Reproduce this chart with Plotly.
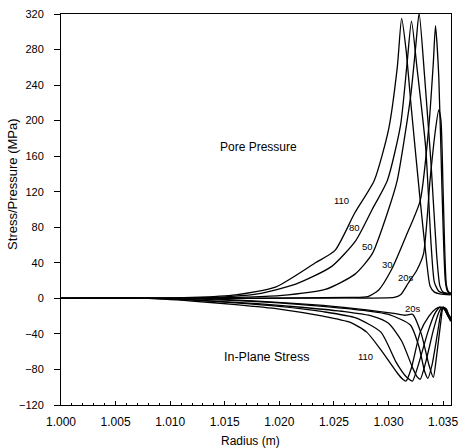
import plotly.graph_objects as go

# ---- Pore pressure curves (radius m, MPa) ----
pore_labels = ["110", "80", "50", "30", "20s"]
pore_r_110 = [1.000, 1.008, 1.012, 1.016, 1.0197, 1.0233, 1.0251, 1.0269, 1.0287, 1.0300, 1.0308, 1.0312,
              1.0316, 1.0321, 1.0329, 1.0335, 1.0338, 1.0342, 1.0347, 1.0357]
pore_p_110 = [0, 0, 1, 4, 13, 40, 54, 96, 133, 190, 260, 315,
              280, 212, 110, 40, 14, 7, 5, 4]
pore_r_80 = [1.000, 1.010, 1.014, 1.018, 1.0215, 1.0248, 1.0270, 1.0285, 1.0299, 1.0311, 1.0317, 1.0321,
             1.0326, 1.0334, 1.0339, 1.0342, 1.0346, 1.0350, 1.0357]
pore_p_80 = [0, 0, 1, 5, 16, 36, 65, 100, 133, 195, 265, 312,
             260, 170, 60, 18, 8, 6, 5]
pore_r_50 = [1.000, 1.012, 1.016, 1.020, 1.0242, 1.0269, 1.0285, 1.0300, 1.0308, 1.0320, 1.0325, 1.0328,
             1.0333, 1.0339, 1.0344, 1.0347, 1.0350, 1.0357]
pore_p_50 = [0, 0, 1, 3, 10, 27, 50, 100, 133, 225, 285, 321,
             250, 150, 50, 14, 7, 5]
pore_r_30 = [1.000, 1.015, 1.022, 1.0265, 1.0281, 1.0291, 1.0303, 1.0316, 1.0329, 1.0337, 1.0341, 1.0343,
             1.0346, 1.0349, 1.0352, 1.0354, 1.0357]
pore_p_30 = [0, 0, 0.5, 1, 2, 9.5, 33, 70, 110, 195, 265, 307,
             250, 120, 20, 8, 6]
pore_r_20 = [1.000, 1.018, 1.026, 1.0305, 1.0311, 1.0318, 1.0326, 1.0332, 1.0338, 1.0343, 1.0346,
             1.0348, 1.0350, 1.0353, 1.0355, 1.0357]
pore_p_20 = [0, 0, 0.5, 1, 4, 17, 32, 50, 133, 190, 212,
             200, 120, 15, 7, 5]

# ---- In-plane stress curves (radius m, MPa) ----
stress_r_110 = [1.000, 1.008, 1.012, 1.016, 1.020, 1.024, 1.0265, 1.028, 1.0293, 1.0308, 1.0313, 1.0316,
                1.0321, 1.0329, 1.0337, 1.0343, 1.0347, 1.0351, 1.0354, 1.0357]
stress_s_110 = [0, 0, -3, -7, -12, -20, -27, -38, -58, -84, -91, -93,
                -78, -38, -20, -12, -10, -12, -19, -26]
stress_r_80 = [1.000, 1.008, 1.012, 1.016, 1.020, 1.024, 1.027, 1.0293, 1.0307, 1.0316, 1.0320, 1.0322,
               1.0327, 1.0336, 1.0342, 1.0347, 1.0351, 1.0354, 1.0357]
stress_s_80 = [0, 0, -2, -5, -9, -15, -22, -38, -72, -88, -92, -93,
               -76, -38, -18, -10, -12, -19, -25]
stress_r_50 = [1.000, 1.010, 1.014, 1.018, 1.022, 1.026, 1.0285, 1.030, 1.0312, 1.0322, 1.0326, 1.0329,
               1.0334, 1.0341, 1.0346, 1.0349, 1.0352, 1.0355, 1.0357]
stress_s_50 = [0, 0, -3, -6, -10, -15, -20, -28, -48, -78, -88, -91,
               -72, -36, -16, -10, -13, -19, -24]
stress_r_30 = [1.000, 1.010, 1.015, 1.020, 1.024, 1.028, 1.030, 1.032, 1.0328, 1.0333, 1.0336,
               1.0340, 1.0345, 1.0348, 1.0350, 1.0353, 1.0355, 1.0357]
stress_s_30 = [0, 0, -2, -5, -9, -14, -18, -30, -55, -82, -90,
               -74, -38, -16, -10, -13, -19, -23]
stress_r_20 = [1.000, 1.012, 1.018, 1.024, 1.028, 1.0305, 1.0315, 1.0322, 1.0330, 1.0337, 1.0341,
               1.0344, 1.0348, 1.0350, 1.0353, 1.0355, 1.0357]
stress_s_20 = [0, 0, -3, -8, -13, -17, -19, -18, -40, -75, -89,
               -65, -25, -10, -12, -18, -22]

x_ticks = [1.000, 1.005, 1.010, 1.015, 1.020, 1.025, 1.030, 1.035]
y_ticks = [-120, -80, -40, 0, 40, 80, 120, 160, 200, 240, 280, 320]

pore_series = [(pore_r_110, pore_p_110), (pore_r_80, pore_p_80), (pore_r_50, pore_p_50),
               (pore_r_30, pore_p_30), (pore_r_20, pore_p_20)]
stress_series = [(stress_r_110, stress_s_110), (stress_r_80, stress_s_80), (stress_r_50, stress_s_50),
                 (stress_r_30, stress_s_30), (stress_r_20, stress_s_20)]

fig = go.Figure()
for (rx, vy), lab in zip(pore_series, pore_labels):
    fig.add_trace(go.Scatter(x=rx, y=vy, mode="lines", name="Pore " + lab,
                             line=dict(color="black", width=1.3, shape="spline", smoothing=0.6),
                             showlegend=False))
for (rx, vy), lab in zip(stress_series, pore_labels):
    fig.add_trace(go.Scatter(x=rx, y=vy, mode="lines", name="Stress " + lab,
                             line=dict(color="black", width=1.3, shape="spline", smoothing=0.6),
                             showlegend=False))

font_main = "Liberation Sans, Arial, sans-serif"
ann = [
    ("Pore Pressure", 1.0181, 170, 12),
    ("In-Plane Stress", 1.0188, -66, 12.5),
    ("110", 1.0257, 110, 9.5),
    ("80", 1.0269, 80, 9.5),
    ("50", 1.0281, 58, 9.5),
    ("30", 1.0299, 38, 9.5),
    ("20s", 1.0316, 24, 9.5),
    ("20s", 1.0322, -11, 9.5),
    ("110", 1.0279, -65, 9.5),
]
for txt, ax_, ay_, fs in ann:
    fig.add_annotation(x=ax_, y=ay_, text=txt, showarrow=False,
                       font=dict(family=font_main, size=fs, color="black"))

# axis titles as paper-positioned text
fig.add_annotation(xref="paper", yref="paper", x=0.486, y=-0.092, text="Radius (m)",
                   showarrow=False, xanchor="center", yanchor="middle",
                   font=dict(family=font_main, size=12, color="black"))
fig.add_annotation(xref="paper", yref="paper", x=-0.123, y=0.563, text="Stress/Pressure (MPa)",
                   showarrow=False, xanchor="center", yanchor="middle", textangle=-90,
                   font=dict(family=font_main, size=13, color="black"))

fig.update_layout(
    width=464, height=448,
    margin=dict(l=61, r=6, t=14, b=43),
    paper_bgcolor="white", plot_bgcolor="white",
    font=dict(family=font_main, size=11, color="black"),
)
fig.update_xaxes(
    range=[1.0, 1.03572], tickvals=x_ticks, tickformat=".3f",
    showline=True, linecolor="black", linewidth=1, mirror=True,
    ticks="inside", ticklen=4, tickcolor="black", showgrid=False, zeroline=False,
    minor=dict(dtick=0.001, ticks="inside", ticklen=2, tickcolor="black"),
    tickfont=dict(size=12), ticklabelstandoff=6, ticklabeloverflow="allow",
)
fig.update_yaxes(
    range=[-120, 320], tickvals=y_ticks,
    showline=True, linecolor="black", linewidth=1, mirror=True,
    ticks="outside", ticklen=6, tickcolor="black", showgrid=False,
    zeroline=False, tickfont=dict(size=11), ticklabelstandoff=8,
)

fig.write_html("out.html")
